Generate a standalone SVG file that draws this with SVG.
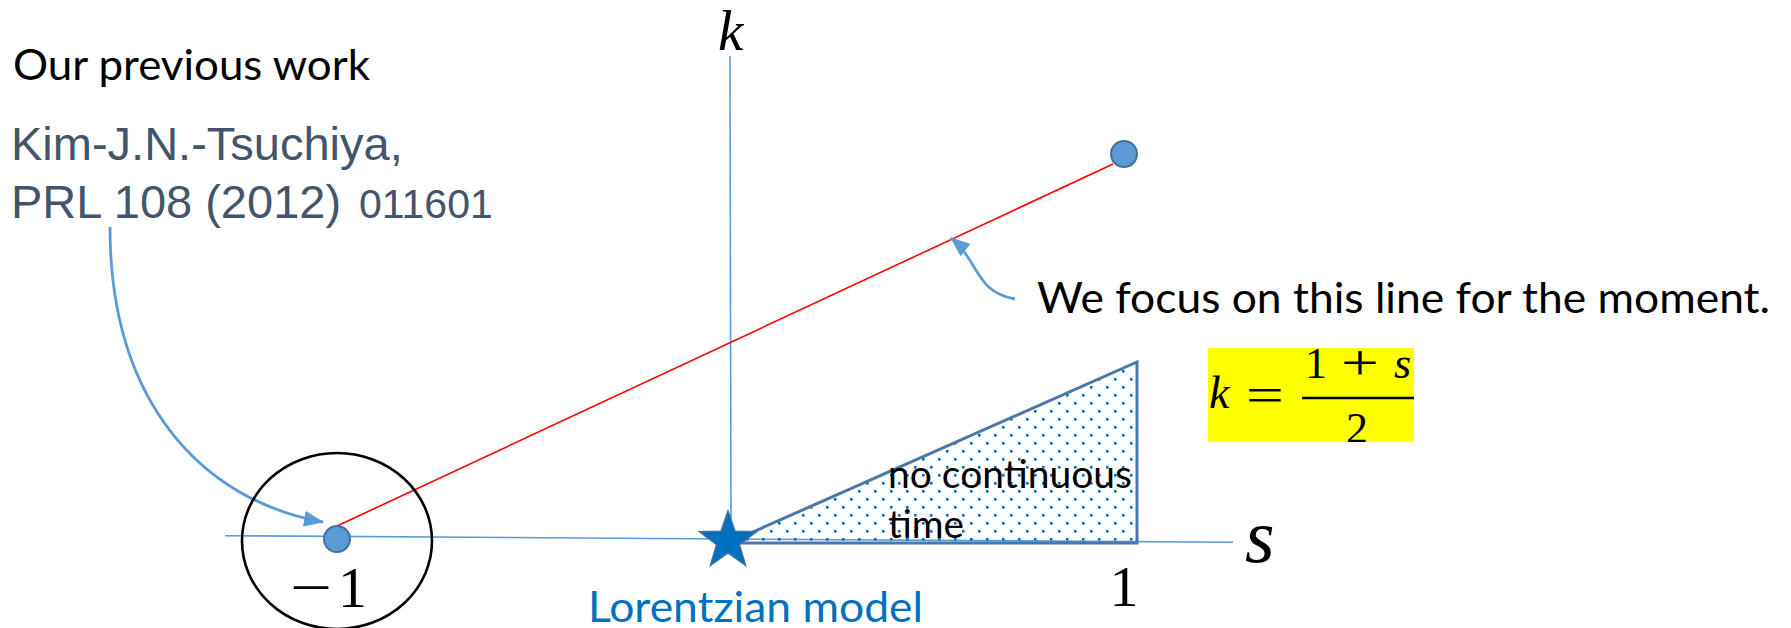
<svg xmlns="http://www.w3.org/2000/svg" width="1791" height="628" viewBox="0 0 1791 628">
<style>
.axis{stroke:#5B9BD5;stroke-width:1.6;fill:none}
.conn{stroke:#5B9BD5;stroke-width:2.8;fill:none}
.dot{fill:#5B9BD5;stroke:#41719C;stroke-width:2}
.cal{font-family:Lato,"Open Sans",sans-serif;fill:#000}
.ari{font-family:"Liberation Sans",Arial,sans-serif;fill:#44546A}
.math{font-family:"Liberation Serif","Times New Roman",serif;fill:#000}
.it{font-style:italic}
</style>
<defs>
<marker id="ah" markerUnits="userSpaceOnUse" markerWidth="20" markerHeight="16" refX="19" refY="8" orient="auto">
<path d="M0,0 L20,8 L0,16 z" fill="#5B9BD5"/>
</marker>
<pattern id="dots" patternUnits="userSpaceOnUse" width="16" height="16">
<rect x="2" y="2" width="2.6" height="2.6" fill="#0070C0"/>
<rect x="10" y="10" width="2.6" height="2.6" fill="#0070C0"/>
</pattern>
<clipPath id="fclip"><rect x="1208" y="348" width="206" height="94"/></clipPath>
</defs>
<rect width="1791" height="628" fill="#fff"/>

<g id="axes">
<line class="axis" x1="225" y1="535.7" x2="1233" y2="542.3"/>
<line class="axis" x1="730" y1="56" x2="731" y2="537"/>
<text class="math it" x="718" y="50" font-size="57">k</text>
<text class="math it" x="1245" y="562" font-size="76">s</text>
</g>

<g id="region">
<polygon points="728,543 1137,362 1137,543" fill="url(#dots)" stroke="#4A76A8" stroke-width="3" stroke-linejoin="miter"/>
<text class="cal" x="888" y="488" font-size="38" textLength="244" lengthAdjust="spacingAndGlyphs">no continuous</text>
<text class="cal" x="888" y="538" font-size="38" textLength="76" lengthAdjust="spacingAndGlyphs">time</text>
</g>

<g id="connectors">
<line x1="337" y1="526" x2="1113" y2="164" stroke="#FF0000" stroke-width="1.6"/>
<path class="conn" d="M110,227 C110,400 200,500 323,522" marker-end="url(#ah)"/>
<path class="conn" d="M1015,299 C975,292 980,262 951,238" marker-end="url(#ah)"/>
</g>

<g id="minus-one">
<ellipse cx="337" cy="541" rx="95" ry="88" fill="none" stroke="#000" stroke-width="2.6"/>
<circle class="dot" cx="337" cy="539" r="13"/>
<text class="math" x="290" y="607" font-size="58" textLength="42" lengthAdjust="spacingAndGlyphs">−</text>
<text class="math" x="338" y="607" font-size="58">1</text>
</g>

<g id="upper-point">
<circle class="dot" cx="1124" cy="154" r="13"/>
</g>

<g id="lorentzian">
<polygon points="728,511 735.05,531.29 756.5,531.7 739.4,544.7 745.6,565.3 728,553 710.4,565.3 716.6,544.7 699.5,531.7 720.95,531.29" fill="#0070C0" stroke="#41719C" stroke-width="1.5"/>
<text class="cal" x="588" y="622" font-size="42" style="fill:#0070C0" textLength="335" lengthAdjust="spacingAndGlyphs">Lorentzian model</text>
</g>

<g id="one">
<text class="math" x="1124" y="606" font-size="58" text-anchor="middle">1</text>
</g>

<g id="previous-work">
<text class="cal" x="13" y="80" font-size="42" textLength="357" lengthAdjust="spacingAndGlyphs">Our previous work</text>
<text class="ari" x="11" y="160" font-size="47">Kim-J.N.-Tsuchiya,</text>
<text class="ari" x="11" y="218" font-size="47">PRL 108 (2012) <tspan x="359" font-size="41">011601</tspan></text>
</g>

<g id="focus-note">
<text class="cal" x="1037" y="313" font-size="42" textLength="733" lengthAdjust="spacingAndGlyphs">We focus on this line for the moment.</text>
</g>

<g id="formula">
<rect x="1208" y="348" width="206" height="94" fill="#FFFF00"/>
<g clip-path="url(#fclip)">
<text class="math it" x="1209" y="408" font-size="46">k</text>
<text class="math" x="1246" y="412" font-size="50" textLength="38" lengthAdjust="spacingAndGlyphs">=</text>
<line x1="1302" y1="398" x2="1414" y2="398" stroke="#000" stroke-width="2.4"/>
<text class="math" x="1305" y="378" font-size="44">1</text>
<text class="math" x="1341" y="380" font-size="50" textLength="38" lengthAdjust="spacingAndGlyphs">+</text>
<text class="math it" x="1394" y="378" font-size="44">s</text>
<text class="math" x="1346" y="443" font-size="44">2</text>
</g>
</g>
</svg>
